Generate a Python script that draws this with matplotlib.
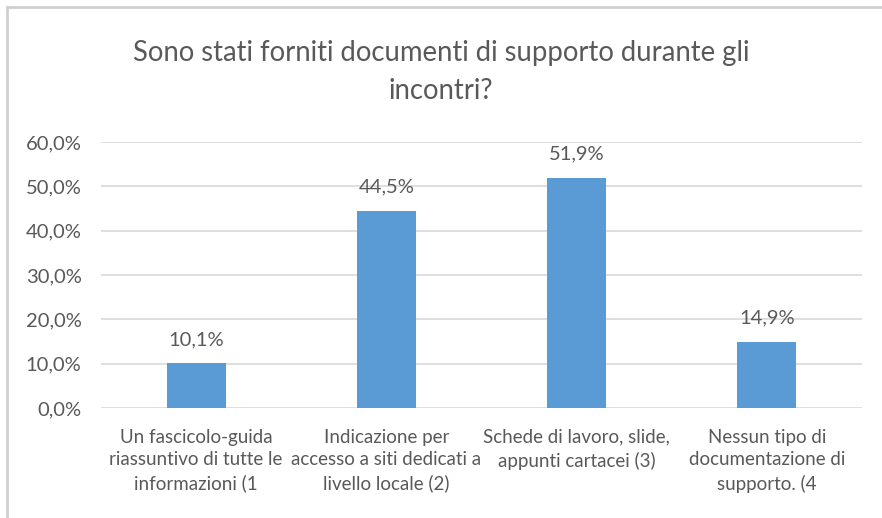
import matplotlib.pyplot as plt
from matplotlib.lines import Line2D

# Risposte alla domanda sui documenti di supporto
categorie = [
    "Un fascicolo-guida\nriassuntivo di tutte le\ninformazioni (1",
    "Indicazione per\naccesso a siti dedicati a\nlivello locale (2)",
    "Schede di lavoro, slide,\nappunti cartacei (3)",
    "Nessun tipo di\ndocumentazione di\nsupporto. (4",
]
percentuali = [10.1, 44.5, 51.9, 14.9]
yticks = [0, 10, 20, 30, 40, 50, 60]

grigio = "#595959"
blu = "#5B9BD5"

plt.rcParams['font.family'] = ['Lato', 'DejaVu Sans']

fig = plt.figure(figsize=(8.82, 5.18), dpi=100)
ax = fig.add_axes([101/882, 1 - 408/518, (862-101)/882, (408-142)/518])

x = range(len(categorie))
ax.bar(x, percentuali, width=0.31, color=blu, zorder=3)

for xi, v in zip(x, percentuali):
    ax.annotate(f"{v:.1f}%".replace(".", ","), (xi, v), xytext=(0, 11),
                textcoords="offset points", ha="center", va="bottom",
                fontsize=14.5, color=grigio)

ax.set_xlim(-0.5, 3.5)
ax.set_ylim(0, 60)
ax.set_yticks(yticks)
ax.set_yticklabels([f"{t:.1f}%".replace(".", ",") for t in yticks],
                   fontsize=14.5, color=grigio)
ax.set_xticks(list(x))
ax.set_xticklabels(categorie, fontsize=13.5, color=grigio, linespacing=1.4)
ax.tick_params(length=0, pad=14)
ax.tick_params(axis='x', pad=15)
ax.grid(axis='y', color="#D9D9D9", linewidth=1.2, zorder=0)
for s in ax.spines.values():
    s.set_visible(False)

fig.text(0.5, 1 - 72/518,
         "Sono stati forniti documenti di supporto durante gli\nincontri?",
         ha="center", va="center", fontsize=19.8, color=grigio,
         linespacing=1.55)

# cornice del grafico (solo lato sinistro e superiore)
fig.add_artist(Line2D([7/882, 7/882], [0, 1 - 7/518], color="#D0D0D0",
                      linewidth=2, transform=fig.transFigure))
fig.add_artist(Line2D([7/882, 1], [1 - 7/518, 1 - 7/518], color="#D0D0D0",
                      linewidth=2, transform=fig.transFigure))

fig.savefig("out.png", dpi=100)
